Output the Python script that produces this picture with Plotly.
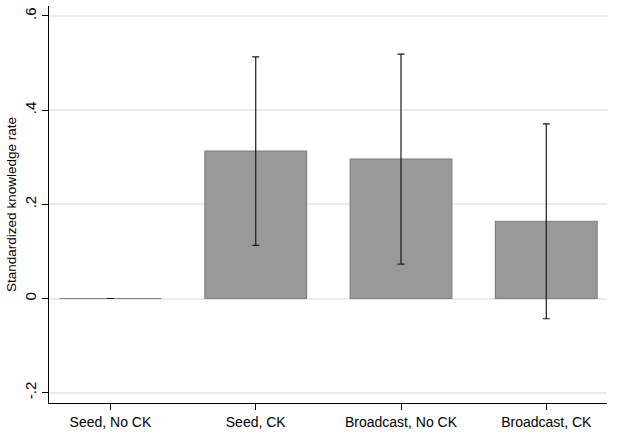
import plotly.graph_objects as go

# Group labels and estimates with symmetric 95% confidence half-widths
groups = ["Seed, No CK", "Seed, CK", "Broadcast, No CK", "Broadcast, CK"]
means = [0.0, 0.313, 0.296, 0.164]
ci_half = [0.0, 0.200, 0.223, 0.207]

y_tickvals = [-0.2, 0.0, 0.2, 0.4, 0.6]
y_ticktext = ["-.2", "0", ".2", ".4", ".6"]

FONT = "Liberation Sans, Arial, Helvetica, sans-serif"

fig = go.Figure()

fig.add_trace(go.Bar(
    x=groups,
    y=means,
    width=0.7,
    marker=dict(color="#999999", line=dict(color="#828282", width=1.2)),
    error_y=dict(type="data", array=ci_half, visible=True,
                 color="#1a1a1a", thickness=1.2, width=3.5),
    hoverinfo="skip",
    showlegend=False,
))

fig.update_layout(
    width=618, height=436,
    margin=dict(l=49, r=10.5, t=6, b=30.3),
    paper_bgcolor="white", plot_bgcolor="white",
    font=dict(family=FONT, size=13, color="black"),
    xaxis=dict(
        type="category",
        range=[-0.423, 3.418],
        ticks="outside", ticklen=6, tickwidth=1, tickcolor="black",
        showgrid=False, zeroline=False,
        showline=True, linecolor="black", linewidth=1,
        tickfont=dict(size=14),
    ),
    yaxis=dict(
        range=[-0.2219, 0.6211],
        tickvals=y_tickvals, ticktext=y_ticktext,
        tickangle=-90,
        ticks="outside", ticklen=6, tickwidth=1, tickcolor="black",
        showgrid=True, gridcolor="#eaeaea", gridwidth=1.5,
        zeroline=False,
        showline=True, linecolor="black", linewidth=1,
        tickfont=dict(size=15),
        title=dict(text="Standardized knowledge rate", font=dict(size=13.5), standoff=2),
    ),
)

fig.write_html("out.html")
